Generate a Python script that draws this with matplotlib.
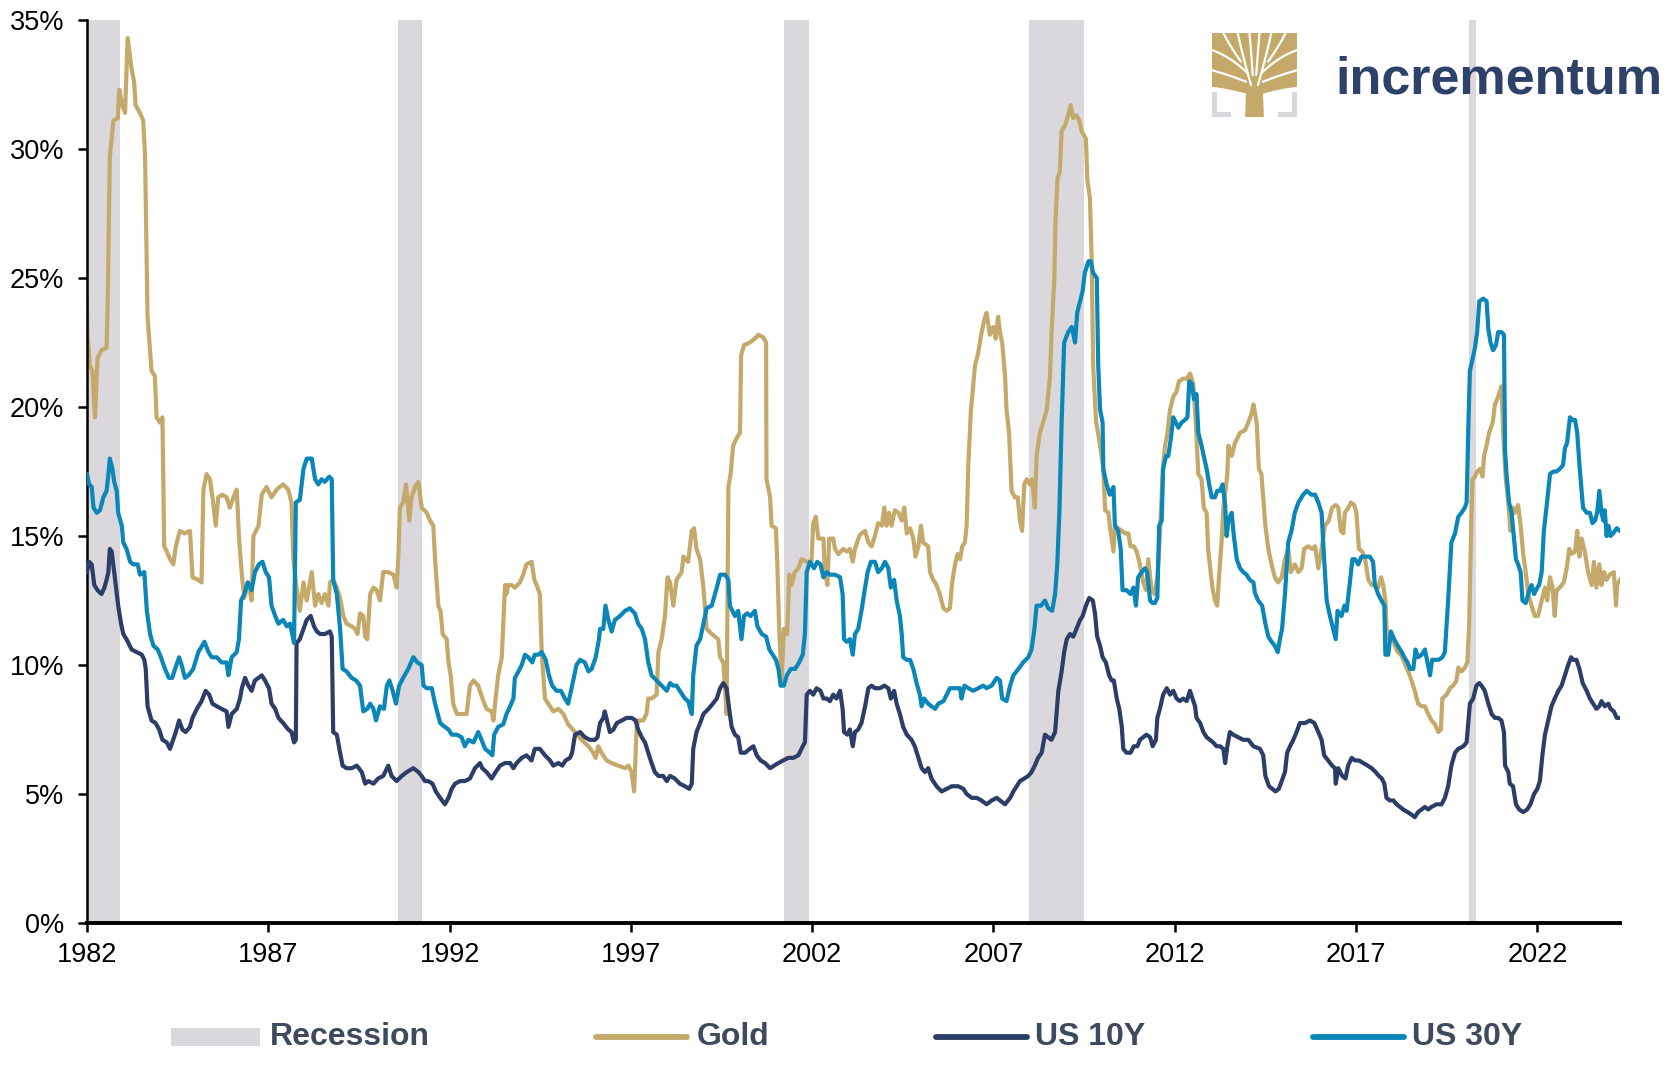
import matplotlib
matplotlib.use("Agg")
import matplotlib.pyplot as plt
from matplotlib.lines import Line2D
from matplotlib.patches import Rectangle, Polygon
import numpy as np

plt.rcParams['font.family'] = ['Liberation Sans', 'DejaVu Sans']

# ---------------- data ----------------
recessions = [(1982.0, 1982.91), (1990.58, 1991.23), (2001.23, 2001.91),
              (2007.99, 2009.49), (2020.11, 2020.32)]

x_ticks = [1982, 1987, 1992, 1997, 2002, 2007, 2012, 2017, 2022]
y_ticks = [0, 5, 10, 15, 20, 25, 30, 35]

gold = [
    (1982.00, 24.2), (1982.01, 22.9), (1982.08, 21.6), (1982.15, 21.4), (1982.22, 19.6),
    (1982.29, 21.9), (1982.40, 22.2), (1982.54, 22.3), (1982.57, 24.0), (1982.63, 29.7),
    (1982.73, 31.1), (1982.85, 31.2), (1982.89, 32.3), (1982.97, 31.7), (1983.05, 31.4),
    (1983.12, 34.3), (1983.23, 33.1), (1983.30, 32.6), (1983.34, 31.7), (1983.46, 31.4),
    (1983.55, 31.1), (1983.60, 29.8), (1983.67, 23.5), (1983.78, 21.4), (1983.87, 21.2),
    (1983.92, 19.6), (1984.01, 19.4), (1984.08, 19.6), (1984.13, 14.6), (1984.20, 14.4),
    (1984.29, 14.1), (1984.38, 13.9), (1984.45, 14.6), (1984.56, 15.2), (1984.70, 15.1),
    (1984.84, 15.2), (1984.91, 13.4), (1985.07, 13.3), (1985.16, 13.2), (1985.21, 16.8),
    (1985.30, 17.4), (1985.39, 17.2), (1985.47, 16.4), (1985.55, 15.4), (1985.62, 16.5),
    (1985.73, 16.6), (1985.85, 16.5), (1985.94, 16.1), (1986.04, 16.5), (1986.13, 16.8),
    (1986.19, 15.0), (1986.27, 13.5), (1986.34, 12.6), (1986.45, 13.2), (1986.54, 12.5),
    (1986.59, 15.0), (1986.73, 15.4), (1986.82, 16.6), (1986.95, 16.9), (1987.09, 16.5),
    (1987.23, 16.8), (1987.41, 17.0), (1987.55, 16.8), (1987.64, 16.3), (1987.69, 14.1),
    (1987.78, 13.0), (1987.87, 12.1), (1987.97, 13.2), (1988.06, 12.5), (1988.20, 13.6),
    (1988.29, 12.3), (1988.38, 12.75), (1988.47, 12.4), (1988.56, 12.75), (1988.66, 12.3),
    (1988.70, 13.2), (1988.79, 13.3), (1988.89, 13.0), (1988.98, 12.6), (1989.07, 11.9),
    (1989.16, 11.6), (1989.30, 11.5), (1989.39, 11.4), (1989.46, 11.2), (1989.53, 12.0),
    (1989.62, 11.9), (1989.67, 11.1), (1989.73, 11.0), (1989.81, 12.75), (1989.90, 13.0),
    (1989.99, 12.9), (1990.08, 12.5), (1990.17, 13.6), (1990.31, 13.6), (1990.45, 13.5),
    (1990.54, 13.0), (1990.59, 14.3), (1990.63, 16.1), (1990.72, 16.3), (1990.80, 17.0),
    (1990.89, 15.6), (1990.95, 16.5), (1991.05, 16.9), (1991.14, 17.1), (1991.23, 16.1),
    (1991.37, 15.9), (1991.46, 15.6), (1991.55, 15.4), (1991.60, 14.1), (1991.69, 12.3),
    (1991.75, 12.1), (1991.81, 11.2), (1991.92, 11.0), (1991.97, 10.1), (1992.03, 9.6),
    (1992.10, 8.5), (1992.20, 8.1), (1992.33, 8.1), (1992.47, 8.1), (1992.56, 9.2),
    (1992.66, 9.4), (1992.79, 9.2), (1992.93, 8.6), (1993.02, 8.3), (1993.16, 8.2),
    (1993.21, 7.85), (1993.27, 8.7), (1993.34, 9.6), (1993.44, 10.3), (1993.53, 13.1),
    (1993.57, 12.75), (1993.62, 13.1), (1993.71, 13.1), (1993.80, 13.0), (1993.94, 13.2),
    (1994.03, 13.5), (1994.12, 13.9), (1994.26, 14.0), (1994.34, 13.3), (1994.40, 13.1),
    (1994.49, 12.75), (1994.54, 10.5), (1994.63, 8.7), (1994.77, 8.4), (1994.86, 8.2),
    (1995.00, 8.3), (1995.14, 8.1), (1995.27, 7.7), (1995.46, 7.4), (1995.64, 7.1),
    (1995.83, 6.85), (1995.96, 6.6), (1996.03, 6.4), (1996.10, 6.85), (1996.19, 6.6),
    (1996.33, 6.3), (1996.47, 6.2), (1996.65, 6.1), (1996.84, 6.0), (1996.93, 6.1),
    (1997.02, 5.85), (1997.09, 5.1), (1997.16, 7.6), (1997.20, 7.85), (1997.34, 7.85),
    (1997.43, 8.1), (1997.48, 8.7), (1997.57, 8.7), (1997.71, 8.85), (1997.76, 10.5),
    (1997.85, 11.0), (1997.94, 11.9), (1998.01, 13.4), (1998.08, 13.2), (1998.17, 12.3),
    (1998.26, 13.3), (1998.40, 13.6), (1998.45, 14.2), (1998.58, 14.0), (1998.68, 15.2),
    (1998.74, 15.3), (1998.81, 14.5), (1998.91, 14.1), (1999.00, 13.0), (1999.09, 11.4),
    (1999.23, 11.2), (1999.32, 11.1), (1999.41, 11.0), (1999.46, 10.3), (1999.55, 10.1),
    (1999.64, 8.1), (1999.69, 16.9), (1999.75, 17.4), (1999.82, 18.5), (1999.92, 18.8),
    (2000.01, 19.0), (2000.04, 22.0), (2000.12, 22.4), (2000.28, 22.5), (2000.42, 22.65),
    (2000.51, 22.8), (2000.65, 22.7), (2000.73, 22.5), (2000.74, 17.2), (2000.84, 16.5),
    (2000.88, 15.4), (2001.00, 15.3), (2001.04, 13.9), (2001.09, 11.4), (2001.16, 9.4),
    (2001.22, 11.4), (2001.31, 11.2), (2001.37, 13.5), (2001.43, 13.1), (2001.52, 13.6),
    (2001.62, 13.75), (2001.71, 14.1), (2001.85, 14.0), (2001.98, 14.0), (2002.03, 15.5),
    (2002.10, 15.75), (2002.17, 14.9), (2002.31, 14.9), (2002.35, 13.6), (2002.42, 13.1),
    (2002.47, 14.9), (2002.58, 14.9), (2002.63, 14.5), (2002.72, 14.3), (2002.86, 14.5),
    (2002.95, 14.4), (2003.04, 14.5), (2003.12, 14.0), (2003.18, 14.5), (2003.30, 15.0),
    (2003.36, 15.1), (2003.46, 15.2), (2003.55, 14.75), (2003.64, 14.6), (2003.73, 15.0),
    (2003.82, 15.5), (2003.92, 15.4), (2003.99, 16.1), (2004.05, 15.4), (2004.12, 15.9),
    (2004.19, 15.4), (2004.28, 16.0), (2004.38, 15.9), (2004.47, 15.6), (2004.54, 16.1),
    (2004.61, 15.1), (2004.70, 15.3), (2004.79, 14.9), (2004.85, 14.2), (2004.93, 14.6),
    (2005.00, 15.4), (2005.06, 14.75), (2005.20, 14.6), (2005.25, 13.6), (2005.34, 13.3),
    (2005.43, 13.1), (2005.52, 12.75), (2005.62, 12.2), (2005.71, 12.1), (2005.80, 12.2),
    (2005.86, 13.2), (2005.94, 13.9), (2006.01, 14.3), (2006.08, 14.1), (2006.14, 14.6),
    (2006.21, 14.75), (2006.26, 15.4), (2006.31, 17.9), (2006.38, 19.9), (2006.44, 20.8),
    (2006.49, 21.6), (2006.58, 22.1), (2006.66, 22.8), (2006.75, 23.4), (2006.81, 23.65),
    (2006.90, 22.8), (2006.99, 23.1), (2007.06, 22.65), (2007.13, 23.5), (2007.18, 22.9),
    (2007.24, 22.5), (2007.32, 21.2), (2007.36, 19.9), (2007.43, 19.0), (2007.50, 16.75),
    (2007.59, 16.5), (2007.67, 16.5), (2007.73, 15.6), (2007.79, 15.2), (2007.85, 17.0),
    (2007.92, 17.2), (2008.01, 17.0), (2008.07, 17.2), (2008.14, 16.1), (2008.19, 18.1),
    (2008.28, 19.0), (2008.37, 19.4), (2008.47, 19.9), (2008.56, 21.2), (2008.60, 22.8),
    (2008.68, 25.0), (2008.71, 27.2), (2008.77, 28.9), (2008.83, 29.1), (2008.88, 30.7),
    (2008.97, 30.9), (2009.06, 31.3), (2009.13, 31.7), (2009.20, 31.2), (2009.29, 31.3),
    (2009.37, 31.1), (2009.43, 30.7), (2009.55, 30.4), (2009.59, 28.8), (2009.66, 28.1),
    (2009.71, 25.7), (2009.75, 21.6), (2009.83, 19.4), (2009.86, 19.2), (2009.94, 18.5),
    (2010.03, 17.6), (2010.08, 16.0), (2010.17, 15.9), (2010.21, 15.4), (2010.31, 14.4),
    (2010.35, 15.4), (2010.44, 15.3), (2010.54, 15.2), (2010.63, 15.1), (2010.72, 15.1),
    (2010.78, 14.6), (2010.87, 14.6), (2010.95, 14.4), (2011.04, 13.9), (2011.13, 13.2),
    (2011.21, 12.9), (2011.27, 14.1), (2011.36, 12.9), (2011.44, 12.75), (2011.52, 13.4),
    (2011.59, 15.0), (2011.67, 17.6), (2011.73, 18.5), (2011.79, 18.9), (2011.87, 19.9),
    (2011.96, 20.4), (2012.05, 20.6), (2012.12, 21.0), (2012.23, 21.1), (2012.33, 21.1),
    (2012.42, 21.3), (2012.51, 20.9), (2012.58, 19.4), (2012.65, 17.4), (2012.74, 17.2),
    (2012.80, 16.1), (2012.88, 15.9), (2012.92, 14.5), (2012.99, 13.6), (2013.04, 13.0),
    (2013.11, 12.5), (2013.17, 12.3), (2013.23, 13.6), (2013.29, 14.75), (2013.34, 16.1),
    (2013.40, 16.75), (2013.45, 17.4), (2013.48, 18.5), (2013.57, 18.1), (2013.66, 18.6),
    (2013.80, 19.0), (2013.94, 19.1), (2014.03, 19.4), (2014.12, 19.75), (2014.17, 20.1),
    (2014.26, 19.4), (2014.32, 17.6), (2014.39, 17.4), (2014.44, 16.5), (2014.50, 15.4),
    (2014.58, 14.5), (2014.67, 13.9), (2014.76, 13.4), (2014.85, 13.2), (2014.95, 13.4),
    (2015.04, 14.1), (2015.13, 14.5), (2015.20, 13.6), (2015.31, 13.9), (2015.41, 13.6),
    (2015.50, 13.75), (2015.57, 14.5), (2015.68, 14.6), (2015.79, 14.5), (2015.87, 14.6),
    (2015.96, 13.75), (2016.05, 14.5), (2016.14, 15.4), (2016.25, 15.6), (2016.34, 16.1),
    (2016.44, 16.2), (2016.51, 16.1), (2016.58, 15.2), (2016.65, 15.1), (2016.69, 15.9),
    (2016.79, 16.1), (2016.86, 16.3), (2016.95, 16.2), (2017.01, 15.9), (2017.08, 14.5),
    (2017.17, 14.4), (2017.25, 14.1), (2017.34, 13.3), (2017.43, 13.1), (2017.54, 13.1),
    (2017.61, 13.0), (2017.69, 13.4), (2017.75, 13.1), (2017.81, 12.5), (2017.84, 11.4),
    (2017.91, 11.0), (2017.98, 11.2), (2018.07, 10.75), (2018.15, 10.5), (2018.24, 10.4),
    (2018.33, 10.1), (2018.44, 9.75), (2018.53, 9.4), (2018.62, 9.0), (2018.71, 8.5),
    (2018.81, 8.4), (2018.90, 8.4), (2018.99, 8.1), (2019.08, 7.85), (2019.18, 7.7),
    (2019.27, 7.4), (2019.34, 7.5), (2019.38, 8.7), (2019.50, 8.85), (2019.59, 9.1),
    (2019.68, 9.2), (2019.77, 9.4), (2019.82, 9.9), (2019.91, 9.75), (2020.00, 9.9),
    (2020.07, 10.1), (2020.12, 11.6), (2020.17, 15.0), (2020.21, 17.2), (2020.28, 17.3),
    (2020.34, 17.5), (2020.42, 17.6), (2020.49, 17.3), (2020.53, 18.1), (2020.60, 18.5),
    (2020.67, 19.0), (2020.77, 19.4), (2020.83, 20.1), (2020.92, 20.4), (2021.01, 20.8),
    (2021.06, 19.0), (2021.13, 17.2), (2021.20, 16.3), (2021.26, 15.2), (2021.32, 16.1),
    (2021.38, 15.9), (2021.47, 16.2), (2021.54, 15.4), (2021.61, 14.3), (2021.68, 13.6),
    (2021.75, 12.75), (2021.84, 12.3), (2021.93, 11.9), (2022.02, 11.9), (2022.12, 12.5),
    (2022.21, 13.0), (2022.27, 12.5), (2022.35, 13.4), (2022.42, 13.0), (2022.48, 11.9),
    (2022.53, 12.9), (2022.62, 13.0), (2022.73, 13.2), (2022.81, 13.75), (2022.88, 14.5),
    (2022.94, 14.3), (2023.04, 14.4), (2023.10, 15.2), (2023.16, 14.2), (2023.22, 14.9),
    (2023.31, 14.4), (2023.40, 13.6), (2023.50, 13.1), (2023.56, 14.0), (2023.63, 13.0),
    (2023.71, 13.9), (2023.77, 13.1), (2023.84, 13.6), (2023.91, 13.3), (2024.00, 13.5),
    (2024.11, 13.6), (2024.17, 12.3), (2024.20, 13.1), (2024.28, 13.3),
]

us10y = [
    (1982.00, 13.6), (1982.06, 14.0), (1982.13, 13.9), (1982.20, 13.1), (1982.29, 12.9),
    (1982.40, 12.75), (1982.48, 13.0), (1982.54, 13.3), (1982.59, 13.6), (1982.63, 14.5),
    (1982.68, 14.4), (1982.75, 13.6), (1982.82, 12.75), (1982.86, 12.3), (1982.94, 11.6),
    (1983.00, 11.2), (1983.09, 11.0), (1983.23, 10.6), (1983.37, 10.5), (1983.51, 10.4),
    (1983.58, 10.2), (1983.62, 9.85), (1983.67, 8.4), (1983.78, 7.85), (1983.89, 7.75),
    (1983.99, 7.5), (1984.08, 7.1), (1984.20, 7.0), (1984.29, 6.75), (1984.35, 7.0),
    (1984.45, 7.4), (1984.54, 7.85), (1984.63, 7.5), (1984.72, 7.4), (1984.84, 7.6),
    (1984.91, 7.95), (1985.03, 8.3), (1985.16, 8.6), (1985.27, 9.0), (1985.37, 8.85),
    (1985.46, 8.5), (1985.58, 8.4), (1985.71, 8.3), (1985.85, 8.2), (1985.90, 7.6),
    (1985.99, 8.1), (1986.13, 8.3), (1986.22, 8.7), (1986.27, 9.1), (1986.36, 9.5),
    (1986.45, 9.2), (1986.54, 9.0), (1986.63, 9.4), (1986.73, 9.5), (1986.82, 9.6),
    (1986.91, 9.4), (1987.02, 9.1), (1987.09, 8.5), (1987.19, 8.3), (1987.28, 7.95),
    (1987.41, 7.75), (1987.55, 7.5), (1987.64, 7.4), (1987.71, 7.0), (1987.76, 7.1),
    (1987.78, 10.85), (1987.87, 11.0), (1987.97, 11.4), (1988.06, 11.75), (1988.17, 11.9),
    (1988.26, 11.5), (1988.34, 11.3), (1988.43, 11.2), (1988.56, 11.2), (1988.70, 11.3),
    (1988.75, 11.1), (1988.79, 7.4), (1988.89, 7.3), (1988.98, 6.6), (1989.05, 6.1),
    (1989.16, 6.0), (1989.30, 6.0), (1989.44, 6.1), (1989.58, 5.85), (1989.67, 5.4),
    (1989.76, 5.5), (1989.90, 5.4), (1990.03, 5.6), (1990.17, 5.7), (1990.31, 6.1),
    (1990.40, 5.7), (1990.54, 5.5), (1990.68, 5.7), (1990.82, 5.85), (1991.00, 6.0),
    (1991.14, 5.85), (1991.23, 5.7), (1991.32, 5.5), (1991.41, 5.5), (1991.53, 5.4),
    (1991.62, 5.1), (1991.74, 4.85), (1991.87, 4.6), (1991.97, 4.85), (1992.06, 5.2),
    (1992.15, 5.4), (1992.29, 5.5), (1992.42, 5.5), (1992.56, 5.6), (1992.70, 6.0),
    (1992.84, 6.2), (1992.90, 6.0), (1993.02, 5.85), (1993.16, 5.6), (1993.27, 5.85),
    (1993.39, 6.1), (1993.53, 6.2), (1993.67, 6.2), (1993.76, 6.0), (1993.85, 6.2),
    (1993.99, 6.4), (1994.12, 6.5), (1994.26, 6.3), (1994.35, 6.75), (1994.49, 6.75),
    (1994.63, 6.5), (1994.77, 6.3), (1994.86, 6.1), (1995.00, 6.2), (1995.11, 6.1),
    (1995.20, 6.3), (1995.32, 6.4), (1995.38, 6.6), (1995.46, 7.3), (1995.60, 7.4),
    (1995.73, 7.2), (1995.87, 7.1), (1996.01, 7.1), (1996.08, 7.2), (1996.15, 7.75),
    (1996.24, 7.95), (1996.28, 8.2), (1996.36, 7.75), (1996.42, 7.4), (1996.52, 7.5),
    (1996.61, 7.75), (1996.75, 7.85), (1996.88, 7.95), (1997.02, 7.95), (1997.13, 7.85),
    (1997.20, 7.5), (1997.30, 7.2), (1997.39, 7.0), (1997.48, 6.6), (1997.57, 6.2),
    (1997.66, 5.85), (1997.76, 5.7), (1997.89, 5.7), (1997.99, 5.5), (1998.08, 5.7),
    (1998.21, 5.6), (1998.35, 5.4), (1998.49, 5.3), (1998.61, 5.2), (1998.68, 5.4),
    (1998.72, 6.75), (1998.81, 7.4), (1998.91, 7.75), (1999.00, 8.1), (1999.14, 8.3),
    (1999.26, 8.5), (1999.37, 8.7), (1999.46, 9.1), (1999.55, 9.3), (1999.64, 9.1),
    (1999.71, 8.3), (1999.78, 7.6), (1999.87, 7.3), (1999.96, 7.2), (2000.03, 6.6),
    (2000.15, 6.6), (2000.28, 6.75), (2000.38, 6.85), (2000.47, 6.5), (2000.58, 6.3),
    (2000.70, 6.2), (2000.84, 6.0), (2000.95, 6.1), (2001.07, 6.2), (2001.20, 6.3),
    (2001.34, 6.4), (2001.48, 6.4), (2001.62, 6.5), (2001.74, 6.85), (2001.80, 7.0),
    (2001.85, 8.85), (2001.94, 9.0), (2002.03, 8.85), (2002.12, 9.1), (2002.23, 9.0),
    (2002.31, 8.7), (2002.40, 8.7), (2002.49, 8.6), (2002.58, 8.85), (2002.67, 8.7),
    (2002.77, 9.0), (2002.84, 8.3), (2002.88, 7.4), (2002.97, 7.3), (2003.04, 7.5),
    (2003.12, 6.85), (2003.18, 7.4), (2003.27, 7.5), (2003.36, 7.75), (2003.46, 8.4),
    (2003.55, 9.1), (2003.64, 9.2), (2003.73, 9.1), (2003.87, 9.1), (2003.99, 9.2),
    (2004.10, 9.1), (2004.17, 8.7), (2004.26, 9.0), (2004.33, 8.5), (2004.42, 8.1),
    (2004.51, 7.6), (2004.61, 7.3), (2004.74, 7.1), (2004.83, 6.85), (2004.93, 6.4),
    (2005.02, 6.0), (2005.11, 5.85), (2005.20, 6.0), (2005.29, 5.6), (2005.43, 5.3),
    (2005.57, 5.1), (2005.71, 5.2), (2005.85, 5.3), (2006.03, 5.3), (2006.17, 5.2),
    (2006.26, 5.0), (2006.40, 4.85), (2006.54, 4.85), (2006.67, 4.75), (2006.81, 4.6),
    (2006.95, 4.75), (2007.09, 4.85), (2007.18, 4.75), (2007.32, 4.6), (2007.46, 4.85),
    (2007.55, 5.1), (2007.64, 5.3), (2007.73, 5.5), (2007.85, 5.6), (2007.96, 5.7),
    (2008.05, 5.85), (2008.14, 6.1), (2008.23, 6.4), (2008.33, 6.6), (2008.42, 7.3),
    (2008.51, 7.2), (2008.60, 7.1), (2008.70, 7.4), (2008.74, 8.1), (2008.79, 9.0),
    (2008.88, 9.75), (2008.95, 10.5), (2009.02, 11.0), (2009.11, 11.2), (2009.20, 11.1),
    (2009.29, 11.4), (2009.39, 11.75), (2009.46, 11.9), (2009.55, 12.3), (2009.64, 12.6),
    (2009.74, 12.5), (2009.80, 12.0), (2009.86, 11.1), (2009.94, 10.75), (2010.01, 10.3),
    (2010.10, 10.1), (2010.19, 9.6), (2010.26, 9.4), (2010.32, 9.4), (2010.40, 8.7),
    (2010.47, 8.3), (2010.54, 7.6), (2010.58, 6.75), (2010.67, 6.6), (2010.78, 6.6),
    (2010.87, 6.85), (2010.97, 6.85), (2011.04, 7.1), (2011.13, 7.2), (2011.22, 7.3),
    (2011.32, 7.2), (2011.39, 6.85), (2011.48, 7.1), (2011.52, 7.95), (2011.59, 8.3),
    (2011.68, 8.85), (2011.78, 9.1), (2011.87, 8.85), (2011.96, 9.0), (2012.05, 8.7),
    (2012.14, 8.6), (2012.23, 8.7), (2012.33, 8.6), (2012.42, 9.0), (2012.49, 8.7),
    (2012.56, 8.4), (2012.60, 7.95), (2012.70, 7.75), (2012.79, 7.4), (2012.88, 7.2),
    (2012.97, 7.1), (2013.06, 7.0), (2013.15, 6.85), (2013.25, 6.85), (2013.34, 6.75),
    (2013.39, 6.2), (2013.45, 6.85), (2013.52, 7.4), (2013.61, 7.3), (2013.75, 7.2),
    (2013.89, 7.1), (2014.03, 7.1), (2014.17, 6.85), (2014.35, 6.75), (2014.44, 6.5),
    (2014.50, 5.7), (2014.60, 5.3), (2014.69, 5.2), (2014.78, 5.1), (2014.87, 5.2),
    (2014.95, 5.5), (2015.04, 5.85), (2015.10, 6.6), (2015.18, 6.85), (2015.27, 7.1),
    (2015.36, 7.4), (2015.45, 7.75), (2015.59, 7.75), (2015.73, 7.85), (2015.85, 7.75),
    (2015.96, 7.4), (2016.05, 7.1), (2016.12, 6.5), (2016.23, 6.3), (2016.34, 6.1),
    (2016.42, 6.0), (2016.44, 5.4), (2016.51, 6.0), (2016.62, 5.7), (2016.71, 5.6),
    (2016.78, 6.1), (2016.88, 6.4), (2016.97, 6.3), (2017.08, 6.3), (2017.20, 6.2),
    (2017.32, 6.1), (2017.43, 6.0), (2017.54, 5.85), (2017.63, 5.7), (2017.71, 5.6),
    (2017.78, 5.4), (2017.84, 4.85), (2017.93, 4.75), (2018.03, 4.75), (2018.12, 4.6),
    (2018.21, 4.5), (2018.30, 4.4), (2018.42, 4.3), (2018.53, 4.2), (2018.62, 4.1),
    (2018.71, 4.3), (2018.81, 4.4), (2018.90, 4.5), (2018.99, 4.4), (2019.08, 4.5),
    (2019.22, 4.6), (2019.36, 4.6), (2019.45, 4.85), (2019.54, 5.3), (2019.63, 6.1),
    (2019.73, 6.6), (2019.82, 6.75), (2019.96, 6.85), (2020.05, 7.0), (2020.14, 8.5),
    (2020.23, 8.7), (2020.32, 9.2), (2020.40, 9.3), (2020.46, 9.2), (2020.55, 9.0),
    (2020.65, 8.5), (2020.74, 8.1), (2020.83, 7.95), (2020.92, 7.95), (2021.01, 7.85),
    (2021.08, 7.4), (2021.11, 6.1), (2021.20, 5.85), (2021.24, 5.4), (2021.33, 5.3),
    (2021.41, 4.6), (2021.50, 4.4), (2021.61, 4.3), (2021.72, 4.4), (2021.81, 4.6),
    (2021.91, 5.0), (2022.00, 5.2), (2022.07, 5.5), (2022.14, 6.5), (2022.21, 7.3),
    (2022.30, 7.85), (2022.39, 8.4), (2022.48, 8.7), (2022.58, 9.0), (2022.67, 9.2),
    (2022.76, 9.6), (2022.85, 10.0), (2022.93, 10.3), (2022.99, 10.2), (2023.08, 10.2),
    (2023.16, 9.85), (2023.25, 9.3), (2023.36, 9.0), (2023.45, 8.7), (2023.54, 8.5),
    (2023.63, 8.3), (2023.71, 8.4), (2023.77, 8.6), (2023.86, 8.4), (2023.96, 8.5),
    (2024.02, 8.3), (2024.11, 8.2), (2024.19, 7.95), (2024.28, 7.95),
]

us30y = [
    (1982.00, 17.4), (1982.06, 17.0), (1982.13, 16.9), (1982.18, 16.1), (1982.27, 15.9),
    (1982.36, 16.0), (1982.45, 16.5), (1982.54, 16.75), (1982.59, 17.4), (1982.63, 18.0),
    (1982.70, 17.6), (1982.75, 17.1), (1982.82, 16.75), (1982.86, 15.9), (1982.96, 15.4),
    (1983.00, 14.75), (1983.09, 14.5), (1983.19, 14.0), (1983.28, 13.9), (1983.40, 13.9),
    (1983.46, 13.5), (1983.58, 13.6), (1983.65, 12.1), (1983.74, 11.2), (1983.83, 10.75),
    (1983.95, 10.6), (1984.04, 10.3), (1984.15, 9.85), (1984.26, 9.5), (1984.35, 9.5),
    (1984.43, 9.85), (1984.54, 10.3), (1984.61, 10.0), (1984.70, 9.5), (1984.80, 9.6),
    (1984.93, 9.85), (1985.07, 10.5), (1985.24, 10.9), (1985.35, 10.5), (1985.44, 10.3),
    (1985.58, 10.3), (1985.71, 10.1), (1985.85, 10.1), (1985.90, 9.6), (1985.99, 10.3),
    (1986.13, 10.5), (1986.19, 11.0), (1986.25, 12.5), (1986.34, 12.75), (1986.43, 13.2),
    (1986.54, 12.9), (1986.63, 13.6), (1986.74, 13.9), (1986.84, 14.0), (1986.93, 13.6),
    (1987.02, 13.4), (1987.09, 12.3), (1987.19, 11.9), (1987.28, 11.6), (1987.41, 11.75),
    (1987.51, 11.5), (1987.60, 11.6), (1987.71, 10.85), (1987.76, 16.3), (1987.87, 16.4),
    (1987.97, 17.6), (1988.06, 18.0), (1988.20, 18.0), (1988.29, 17.2), (1988.38, 17.0),
    (1988.47, 17.2), (1988.56, 17.1), (1988.68, 17.3), (1988.75, 17.2), (1988.79, 13.3),
    (1988.89, 12.75), (1988.98, 11.4), (1989.05, 9.85), (1989.16, 9.75), (1989.30, 9.5),
    (1989.42, 9.4), (1989.53, 9.2), (1989.62, 8.2), (1989.73, 8.3), (1989.81, 8.5),
    (1989.90, 8.3), (1989.97, 7.85), (1990.08, 8.4), (1990.19, 8.3), (1990.27, 9.2),
    (1990.34, 9.4), (1990.43, 9.0), (1990.52, 8.5), (1990.61, 9.2), (1990.72, 9.5),
    (1990.86, 9.85), (1991.00, 10.3), (1991.11, 10.1), (1991.23, 10.0), (1991.28, 9.2),
    (1991.37, 9.1), (1991.51, 9.1), (1991.60, 8.5), (1991.74, 7.75), (1991.87, 7.6),
    (1991.97, 7.5), (1992.06, 7.3), (1992.20, 7.3), (1992.33, 7.2), (1992.42, 6.85),
    (1992.52, 7.1), (1992.66, 7.0), (1992.79, 7.4), (1992.88, 7.1), (1992.98, 6.75),
    (1993.11, 6.6), (1993.18, 6.5), (1993.23, 7.3), (1993.34, 7.6), (1993.48, 7.7),
    (1993.57, 8.1), (1993.67, 8.4), (1993.76, 8.7), (1993.80, 9.5), (1993.90, 9.75),
    (1993.99, 10.0), (1994.08, 10.4), (1994.17, 10.3), (1994.28, 10.1), (1994.35, 10.4),
    (1994.45, 10.4), (1994.54, 10.5), (1994.65, 10.2), (1994.74, 9.6), (1994.83, 9.2),
    (1994.95, 9.0), (1995.07, 9.0), (1995.18, 8.7), (1995.27, 8.5), (1995.38, 9.2),
    (1995.50, 10.0), (1995.60, 10.2), (1995.73, 10.1), (1995.83, 9.75), (1995.92, 9.85),
    (1996.03, 10.3), (1996.12, 11.0), (1996.15, 11.4), (1996.24, 11.4), (1996.30, 12.3),
    (1996.38, 11.75), (1996.47, 11.3), (1996.56, 11.75), (1996.70, 11.9), (1996.84, 12.1),
    (1996.97, 12.2), (1997.11, 12.0), (1997.20, 11.6), (1997.30, 11.4), (1997.39, 11.0),
    (1997.48, 10.1), (1997.57, 9.6), (1997.71, 9.4), (1997.85, 9.2), (1997.99, 9.0),
    (1998.08, 9.3), (1998.17, 9.2), (1998.26, 9.2), (1998.35, 9.0), (1998.49, 8.7),
    (1998.58, 8.6), (1998.68, 8.1), (1998.72, 9.6), (1998.81, 10.75), (1998.91, 11.0),
    (1999.00, 11.6), (1999.09, 12.2), (1999.23, 12.3), (1999.37, 13.0), (1999.46, 13.5),
    (1999.60, 13.5), (1999.69, 13.3), (1999.73, 12.3), (1999.87, 11.9), (1999.96, 12.1),
    (2000.05, 11.0), (2000.12, 11.9), (2000.21, 12.0), (2000.30, 11.9), (2000.42, 12.1),
    (2000.49, 11.5), (2000.61, 11.2), (2000.73, 11.1), (2000.82, 10.6), (2000.91, 10.4),
    (2001.00, 10.2), (2001.07, 9.85), (2001.13, 9.2), (2001.22, 9.2), (2001.30, 9.6),
    (2001.41, 9.85), (2001.53, 9.85), (2001.64, 10.1), (2001.74, 10.4), (2001.80, 11.2),
    (2001.85, 13.6), (2001.94, 14.0), (2002.05, 13.75), (2002.14, 14.0), (2002.23, 13.9),
    (2002.31, 13.4), (2002.40, 13.6), (2002.49, 13.5), (2002.63, 13.5), (2002.77, 13.4),
    (2002.84, 12.75), (2002.88, 11.0), (2002.95, 10.9), (2003.04, 11.0), (2003.12, 10.4),
    (2003.18, 11.2), (2003.27, 11.4), (2003.36, 12.1), (2003.46, 13.0), (2003.53, 13.6),
    (2003.62, 14.0), (2003.73, 14.0), (2003.82, 13.6), (2003.92, 13.75), (2004.01, 14.0),
    (2004.10, 13.75), (2004.17, 13.0), (2004.26, 13.3), (2004.33, 12.5), (2004.42, 11.9),
    (2004.47, 11.2), (2004.51, 10.3), (2004.61, 10.2), (2004.70, 10.2), (2004.79, 9.85),
    (2004.88, 9.3), (2004.97, 8.85), (2005.02, 8.4), (2005.09, 8.7), (2005.20, 8.5),
    (2005.29, 8.4), (2005.39, 8.3), (2005.48, 8.5), (2005.62, 8.6), (2005.71, 8.85),
    (2005.80, 9.1), (2005.94, 9.1), (2006.08, 9.1), (2006.12, 8.7), (2006.20, 9.2),
    (2006.31, 9.1), (2006.44, 9.0), (2006.58, 9.1), (2006.72, 9.2), (2006.81, 9.1),
    (2006.95, 9.2), (2007.09, 9.5), (2007.18, 9.4), (2007.24, 8.7), (2007.36, 8.6),
    (2007.46, 9.2), (2007.55, 9.6), (2007.69, 9.85), (2007.82, 10.1), (2007.96, 10.3),
    (2008.05, 10.6), (2008.13, 11.4), (2008.19, 12.3), (2008.31, 12.3), (2008.42, 12.5),
    (2008.51, 12.2), (2008.62, 12.1), (2008.70, 12.75), (2008.76, 13.9), (2008.82, 16.0),
    (2008.88, 19.4), (2008.95, 22.5), (2009.06, 22.9), (2009.16, 23.1), (2009.25, 22.5),
    (2009.31, 23.65), (2009.39, 24.1), (2009.46, 24.5), (2009.52, 25.2), (2009.62, 25.65),
    (2009.68, 25.65), (2009.75, 25.2), (2009.85, 25.0), (2009.89, 21.6), (2009.94, 19.9),
    (2010.01, 19.4), (2010.03, 17.6), (2010.12, 17.0), (2010.21, 16.6), (2010.31, 16.9),
    (2010.35, 15.4), (2010.44, 15.2), (2010.51, 14.5), (2010.56, 12.9), (2010.67, 12.9),
    (2010.78, 12.75), (2010.86, 13.0), (2010.93, 12.3), (2010.99, 13.4), (2011.09, 13.6),
    (2011.18, 13.75), (2011.24, 13.6), (2011.32, 12.5), (2011.39, 12.4), (2011.45, 12.4),
    (2011.52, 12.6), (2011.57, 15.4), (2011.64, 15.6), (2011.68, 17.6), (2011.76, 18.1),
    (2011.82, 18.1), (2011.89, 18.75), (2011.96, 19.6), (2012.03, 19.4), (2012.10, 19.2),
    (2012.19, 19.4), (2012.28, 19.5), (2012.35, 19.6), (2012.40, 21.0), (2012.47, 20.9),
    (2012.53, 20.3), (2012.60, 20.5), (2012.65, 19.0), (2012.74, 18.5), (2012.80, 18.1),
    (2012.88, 17.6), (2012.95, 17.0), (2013.02, 16.5), (2013.11, 16.5), (2013.17, 16.75),
    (2013.25, 16.75), (2013.32, 17.0), (2013.39, 16.2), (2013.43, 15.0), (2013.48, 15.6),
    (2013.57, 15.9), (2013.63, 15.0), (2013.71, 14.1), (2013.80, 13.75), (2013.89, 13.6),
    (2013.98, 13.5), (2014.07, 13.3), (2014.17, 13.2), (2014.21, 12.8), (2014.30, 12.5),
    (2014.41, 12.3), (2014.50, 11.6), (2014.58, 11.1), (2014.67, 10.9), (2014.76, 10.75),
    (2014.84, 10.5), (2014.90, 11.0), (2014.96, 11.4), (2015.04, 12.75), (2015.13, 14.75),
    (2015.22, 15.2), (2015.31, 15.9), (2015.41, 16.3), (2015.54, 16.6), (2015.64, 16.75),
    (2015.77, 16.6), (2015.87, 16.6), (2015.96, 16.3), (2016.05, 15.9), (2016.12, 14.1),
    (2016.19, 12.5), (2016.28, 11.9), (2016.37, 11.4), (2016.44, 11.0), (2016.49, 12.1),
    (2016.60, 11.9), (2016.68, 12.3), (2016.74, 12.1), (2016.83, 13.2), (2016.90, 14.1),
    (2016.97, 14.1), (2017.06, 13.9), (2017.15, 14.2), (2017.26, 14.2), (2017.38, 14.2),
    (2017.47, 14.0), (2017.52, 13.1), (2017.61, 12.75), (2017.70, 12.5), (2017.78, 12.3),
    (2017.81, 10.4), (2017.89, 10.4), (2017.96, 11.3), (2018.05, 11.0), (2018.15, 10.75),
    (2018.26, 10.5), (2018.33, 10.3), (2018.42, 10.1), (2018.49, 9.85), (2018.58, 9.85),
    (2018.64, 10.6), (2018.71, 10.3), (2018.81, 10.4), (2018.90, 10.6), (2018.97, 10.1),
    (2019.04, 9.6), (2019.10, 10.2), (2019.19, 10.2), (2019.28, 10.2), (2019.38, 10.3),
    (2019.45, 10.5), (2019.54, 12.5), (2019.63, 14.75), (2019.73, 15.1), (2019.82, 15.75),
    (2019.91, 15.9), (2020.00, 16.1), (2020.05, 16.3), (2020.10, 19.4), (2020.14, 21.4),
    (2020.22, 21.9), (2020.28, 22.3), (2020.34, 22.9), (2020.40, 24.1), (2020.51, 24.2),
    (2020.60, 24.1), (2020.65, 23.0), (2020.71, 22.5), (2020.78, 22.2), (2020.86, 22.4),
    (2020.92, 22.9), (2021.01, 22.9), (2021.08, 22.8), (2021.11, 18.3), (2021.15, 17.4),
    (2021.22, 16.3), (2021.29, 15.9), (2021.35, 15.0), (2021.41, 14.1), (2021.47, 13.9),
    (2021.54, 13.6), (2021.59, 12.5), (2021.68, 12.4), (2021.78, 12.9), (2021.84, 13.1),
    (2021.91, 12.75), (2022.00, 13.0), (2022.05, 13.1), (2022.12, 13.6), (2022.18, 15.2),
    (2022.26, 16.2), (2022.35, 17.4), (2022.44, 17.5), (2022.53, 17.5), (2022.62, 17.6),
    (2022.71, 17.75), (2022.76, 18.4), (2022.82, 18.6), (2022.90, 19.6), (2022.97, 19.5),
    (2023.04, 19.5), (2023.10, 19.0), (2023.17, 17.6), (2023.26, 16.1), (2023.36, 15.9),
    (2023.45, 15.9), (2023.52, 15.5), (2023.59, 15.6), (2023.65, 15.9), (2023.71, 16.75),
    (2023.77, 15.9), (2023.82, 15.6), (2023.86, 16.0), (2023.91, 15.0), (2023.96, 15.4),
    (2024.02, 15.0), (2024.09, 15.1), (2024.19, 15.3), (2024.28, 15.2),
]

series_names = ["Gold", "US 10Y", "US 30Y"]

# ---------------- style ----------------
COL_GOLD = '#C4A96B'
COL_10Y = '#2C3E67'
COL_30Y = '#0A86B8'
COL_REC = '#DAD8DC'
COL_LEG = '#3D4A5C'
COL_LOGO = '#2E4169'

W, H = 1677, 1066
fig = plt.figure(figsize=(W / 100, H / 100), dpi=100)
ax = fig.add_axes([87 / W, 1 - 923 / H, (1620 - 87) / W, (923 - 20) / H])

for a, b in recessions:
    ax.axvspan(a, b, color=COL_REC, lw=0, zorder=0)

for data, col, z in [(gold, COL_GOLD, 2), (us10y, COL_10Y, 3), (us30y, COL_30Y, 4)]:
    t, v = zip(*data)
    ax.plot(t, v, color=col, lw=3.0, zorder=z, solid_joinstyle='round')

ax.set_xlim(1982.0, 2024.28)
ax.set_ylim(0, 35)
ax.set_xticks(x_ticks)
ax.set_xticklabels([str(y) for y in x_ticks])
ax.set_yticks(y_ticks)
ax.set_yticklabels([f"{y}%" for y in y_ticks])
for s in ['top', 'right']:
    ax.spines[s].set_visible(False)
ax.spines['left'].set_linewidth(1.8)
ax.spines['bottom'].set_linewidth(2.8)
ax.tick_params(axis='y', direction='out', length=6.5, width=1.8, labelsize=19.5, pad=10)
ax.tick_params(axis='x', direction='out', length=6.5, width=1.8, labelsize=19.5, pad=7)

# ---------------- legend (manual) ----------------
ly = (H - 1037) / H
fig.add_artist(Rectangle((171 / W, (H - 1046) / H), 89 / W, 18 / H,
                         transform=fig.transFigure, color=COL_REC, lw=0))
fig.text(270 / W, ly, "Recession", fontsize=23, fontweight='bold', color=COL_LEG, va='center')
for (x0, x1, tx), col, name in zip([(596, 687, 697), (936, 1027, 1035), (1313, 1404, 1412)],
                                   [COL_GOLD, COL_10Y, COL_30Y], series_names):
    fig.add_artist(Line2D([x0 / W, x1 / W], [ly, ly], transform=fig.transFigure,
                          color=col, lw=4.2, solid_capstyle='round'))
    fig.text(tx / W, ly, name, fontsize=23, fontweight='bold', color=COL_LEG, va='center')

# ---------------- logo ----------------
fig.text(1335 / W, (H - 93) / H, "incrementum", fontsize=37.5, fontweight='bold',
         color=COL_LOGO, ha='left', va='baseline', zorder=10)

lax = fig.add_axes([1212 / W, 1 - 117 / H, 85 / W, 84 / H], zorder=10)
lax.set_xlim(0, 100)
lax.set_ylim(0, 100)
lax.axis('off')
grey = '#D8D7DB'
for r in [(0, 0, 6, 30), (0, 0, 22, 6), (94, 0, 6, 30), (78, 0, 22, 6)]:
    lax.add_patch(Rectangle((r[0], r[1]), r[2], r[3], color=grey, lw=0))
crown = [(0, 100), (100, 100), (100, 36), (86, 34), (72, 31), (60, 28), (61, 0), (39, 0),
         (40, 28), (28, 31), (14, 34), (0, 36)]
lax.add_patch(Polygon(crown, closed=True, color=COL_GOLD, lw=0))


def bez(p0, p1, p2, n=30):
    s = np.linspace(0, 1, n)[:, None]
    p0, p1, p2 = map(np.array, (p0, p1, p2))
    return (1 - s) ** 2 * p0 + 2 * (1 - s) * s * p1 + s ** 2 * p2


branches = [((46, 38), (38, 65), (30, 101)), ((54, 38), (62, 65), (70, 101)),
            ((42, 52), (22, 72), (-1, 80)), ((58, 52), (78, 72), (101, 80)),
            ((40, 42), (20, 50), (-1, 56)), ((60, 42), (80, 50), (101, 56)),
            ((34, 66), (20, 86), (13, 101)), ((66, 66), (80, 86), (87, 101)),
            ((48, 50), (46, 78), (44, 101)), ((52, 50), (54, 78), (56, 101))]
for b in branches:
    pts = bez(*b)
    lax.plot(pts[:, 0], pts[:, 1], color='white', lw=1.6, solid_capstyle='round')

fig.savefig("out.png", dpi=100)
